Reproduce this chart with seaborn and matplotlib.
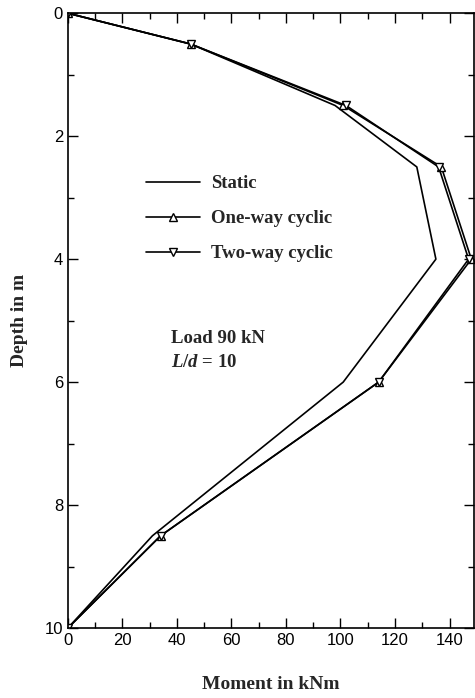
import matplotlib
matplotlib.use("Agg")
import matplotlib.pyplot as plt
import seaborn as sns
import pandas as pd
from matplotlib.ticker import MultipleLocator

depth = [0, 0.5, 1.5, 2.5, 4, 6, 8.5, 10]
static = [0, 45, 98, 128, 135, 101, 31, 0]
one_way = [0, 45, 101, 137, 148, 114, 34, 0]
two_way = [0, 45, 102, 136, 147, 114, 34, 0]

sns.set_theme(style="ticks")
plt.rcParams['font.family'] = ['Liberation Sans', 'DejaVu Sans']
plt.rcParams['mathtext.fontset'] = 'custom'
plt.rcParams['mathtext.rm'] = 'Liberation Serif:bold'
plt.rcParams['mathtext.it'] = 'Liberation Serif:italic:bold'

fig = plt.figure(figsize=(4.75, 6.98), dpi=100)
ax = fig.add_axes([0.143, 0.1003, 0.855, 0.8807])

series = [("Static", static, None), ("One-way cyclic", one_way, "^"), ("Two-way cyclic", two_way, "v")]
for name, vals, mk in series:
    df = pd.DataFrame({"Moment": vals, "Depth": depth})
    sns.lineplot(data=df, x="Moment", y="Depth", sort=False, estimator=None, ax=ax, color="black",
                 lw=1.2, marker=mk, markersize=6, markerfacecolor="white",
                 markeredgecolor="black", markeredgewidth=1.0, label=name)

ax.set_xlim(0, 149)
ax.set_ylim(10, 0)
ax.xaxis.set_major_locator(MultipleLocator(20))
ax.xaxis.set_minor_locator(MultipleLocator(10))
ax.yaxis.set_major_locator(MultipleLocator(2))
ax.yaxis.set_minor_locator(MultipleLocator(1))
ax.tick_params(which="both", direction="in", top=True, right=True, labeltop=False, labelright=False,
               colors="black", labelsize=12)
ax.tick_params(which="major", length=7, width=1)
ax.tick_params(which="minor", length=4, width=1)
for s in ax.spines.values():
    s.set_linewidth(1.2)
    s.set_color("black")

serif = ['Liberation Serif', 'DejaVu Serif']
ax.set_xlabel("Moment in kNm", family=serif, fontweight="bold", fontsize=14, labelpad=20)
ax.set_ylabel("Depth in m", family=serif, fontweight="bold", fontsize=14, labelpad=12)

leg = ax.legend(loc="upper left", bbox_to_anchor=(0.15, 0.764), frameon=False,
                prop={"family": serif, "weight": "bold", "size": 13.5},
                handlelength=2.9, labelspacing=0.95, handletextpad=0.6)

ax.text(0.255, 0.4715, "Load 90 kN", transform=ax.transAxes, family=serif,
        fontweight="bold", fontsize=13.5, va="center")
ax.text(0.255, 0.4325, r"$L/d$ = 10", transform=ax.transAxes, family=serif,
        fontweight="bold", fontsize=13.5, va="center")

fig.savefig("out.png", dpi=100)
